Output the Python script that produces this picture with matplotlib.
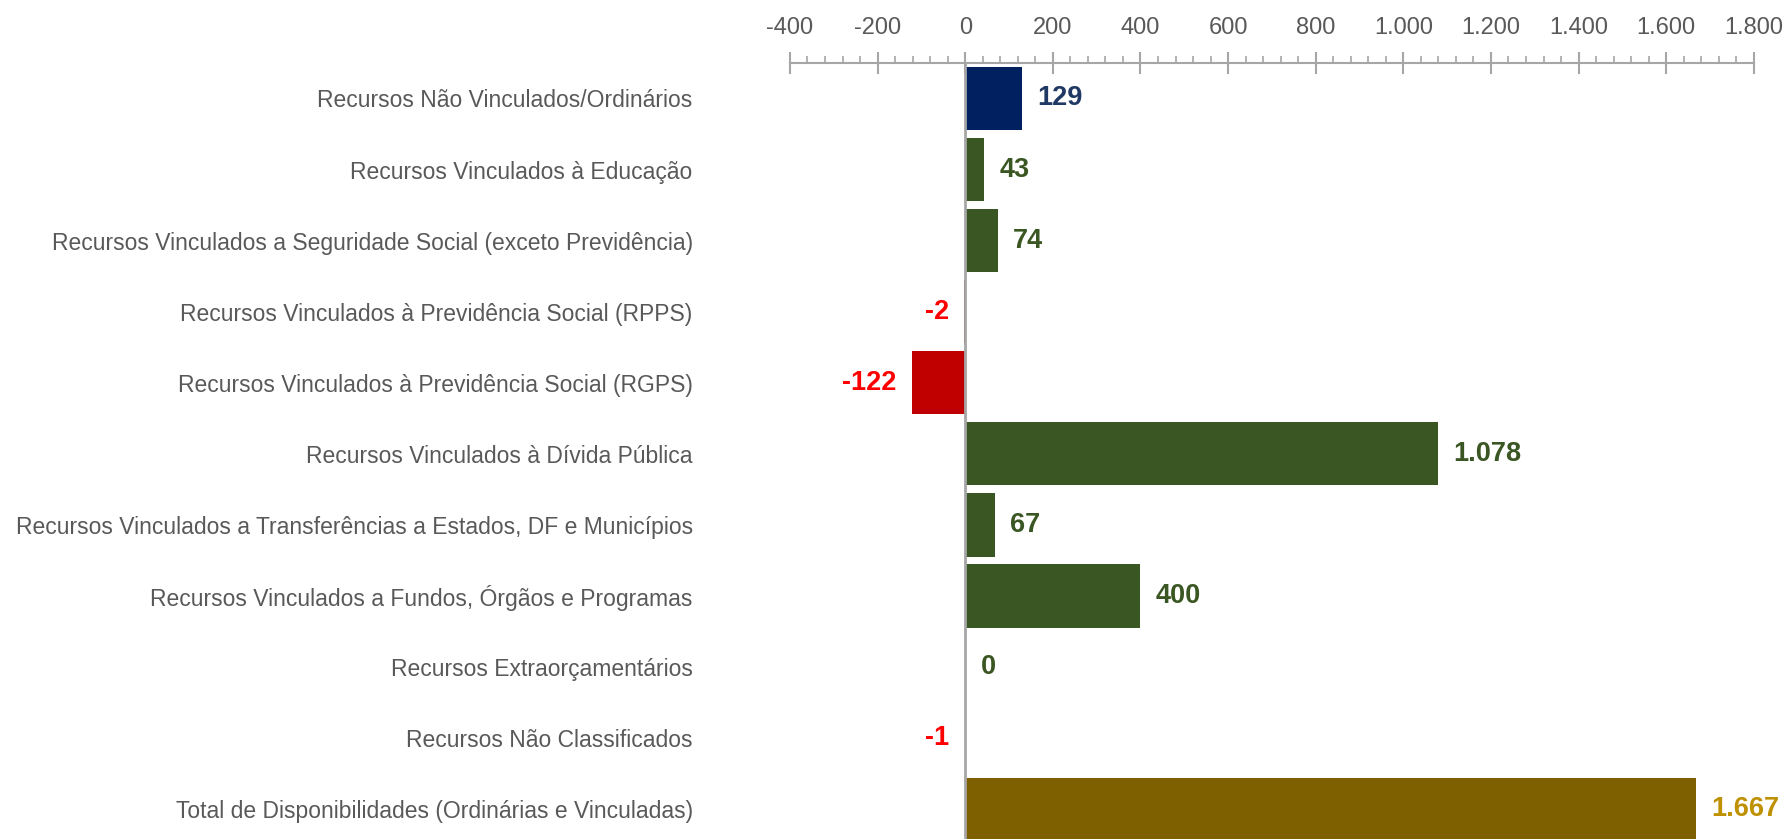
import matplotlib.pyplot as plt
from matplotlib.ticker import MultipleLocator, FuncFormatter

# dados
categorias = [
    'Recursos Não Vinculados/Ordinários',
    'Recursos Vinculados à Educação',
    'Recursos Vinculados a Seguridade Social (exceto Previdência)',
    'Recursos Vinculados à Previdência Social (RPPS)',
    'Recursos Vinculados à Previdência Social (RGPS)',
    'Recursos Vinculados à Dívida Pública',
    'Recursos Vinculados a Transferências a Estados, DF e Municípios',
    'Recursos Vinculados a Fundos, Órgãos e Programas',
    'Recursos Extraorçamentários',
    'Recursos Não Classificados',
    'Total de Disponibilidades (Ordinárias e Vinculadas)',
]
valores = [129, 43, 74, -2, -122, 1078, 67, 400, 0, -1, 1667]
cores_barra = ['#002060', '#3A5622', '#3A5622', '#C00000', '#C00000', '#3A5622',
               '#3A5622', '#3A5622', '#3A5622', '#C00000', '#7F6000']
cores_texto = ['#1F3864', '#3A5622', '#3A5622', '#FF0000', '#FF0000', '#3A5622',
               '#3A5622', '#3A5622', '#3A5622', '#FF0000', '#BF9000']

fonte = ['Liberation Sans', 'DejaVu Sans']
cinza = '#A6A6A6'

def fmt_br(v, pos=None):
    return f'{v:,.0f}'.replace(',', '.')

fig = plt.figure(figsize=(17.88, 8.39), dpi=100)
ax = fig.add_axes([0.4418, 0.0, 0.5391, 0.925])

y = list(range(len(categorias)))
ax.barh(y, valores, height=0.89, color=cores_barra)

ax.set_xlim(-400, 1800)
ax.set_ylim(10.42, -0.5)

# eixo x no topo
ax.xaxis.tick_top()
ax.xaxis.set_major_locator(MultipleLocator(200))
ax.xaxis.set_minor_locator(MultipleLocator(40))
ax.xaxis.set_major_formatter(FuncFormatter(fmt_br))
ax.tick_params(axis='x', which='major', direction='inout', length=16, width=1.5,
               color=cinza, labelsize=17, labelcolor='#595959', pad=9)
ax.tick_params(axis='x', which='minor', direction='out', length=5, width=1.2, color=cinza)
for lbl in ax.get_xticklabels():
    lbl.set_family(fonte)

# eixo y (categorias)
ax.set_yticks(y)
ax.set_yticklabels(categorias, fontsize=16.5, color='#595959', family=fonte)
ax.tick_params(axis='y', length=0, pad=70)

for s in ['right', 'bottom', 'left']:
    ax.spines[s].set_visible(False)
ax.spines['top'].set_color(cinza)
ax.spines['top'].set_linewidth(1.5)
ax.axvline(0, color=cinza, lw=2, zorder=3)

# rótulos dos valores
for i, v in enumerate(valores):
    if v < 0:
        ax.annotate(fmt_br(v), (v, i), xytext=(-11, 0), textcoords='offset points',
                    ha='right', va='center', fontsize=19.5, fontweight='bold',
                    color=cores_texto[i], family=fonte)
    else:
        ax.annotate(fmt_br(v), (v, i), xytext=(11, 0), textcoords='offset points',
                    ha='left', va='center', fontsize=19.5, fontweight='bold',
                    color=cores_texto[i], family=fonte)

fig.savefig('out.png', dpi=100, facecolor='white')
